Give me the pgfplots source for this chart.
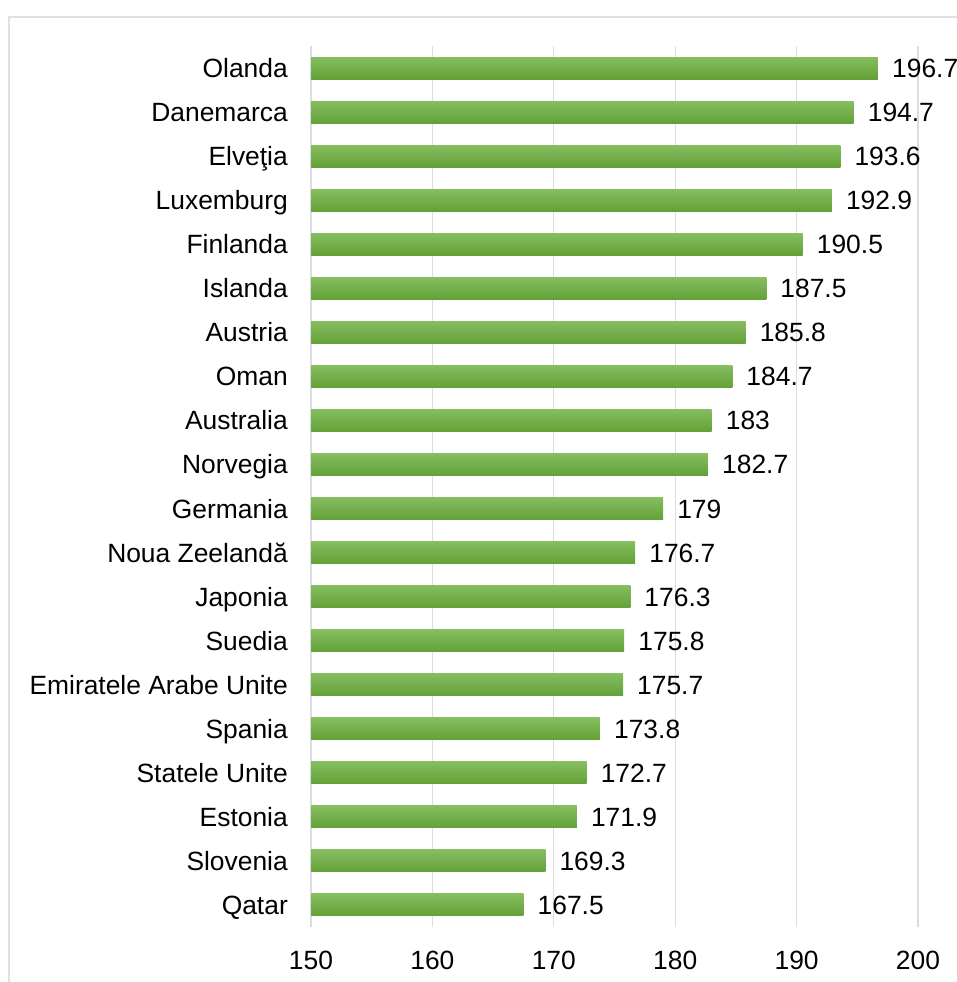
\documentclass[border=0pt]{standalone}
\usepackage{pgfplots}
\pgfplotsset{compat=1.18}
\usepackage{fontspec}
\setmainfont{Liberation Sans}
\definecolor{gridc}{RGB}{218,222,228}
\definecolor{framec}{RGB}{221,226,231}
\definecolor{barlight}{RGB}{134,189,96}
\definecolor{bardark}{RGB}{99,161,55}
\pgfplotsset{mybar/.style={xbar, bar shift=0pt, bar width=22bp, draw=none,
  top color=barlight, bottom color=bardark,
  nodes near coords,
  nodes near coords style={anchor=base west, inner sep=0pt, xshift=14bp, yshift=-9.5bp, text=black, font=\fontsize{26.5}{30}\selectfont}}}
\begin{document}
\begin{tikzpicture}
\path[use as bounding box, clip] (0bp,0bp) rectangle (957bp,-982bp);
\fill[white] (0bp,0bp) rectangle (957bp,-982bp);
\draw[framec, line width=2bp] (9bp,-17bp) rectangle (1100bp,-1100bp);
\begin{axis}[
  at={(311bp,-927bp)}, anchor=south west,
  scale only axis, width=607bp, height=881bp,
  xmin=150, xmax=200, ymin=-0.5, ymax=19.5,
  xtick={150,160,...,200},
  ytick={0,...,19},
  yticklabels={Qatar,Slovenia,Estonia,Statele Unite,Spania,Emiratele Arabe Unite,Suedia,Japonia,Noua Zeelandă,Germania,Norvegia,Australia,Oman,Austria,Islanda,Finlanda,Luxemburg,Elveţia,Danemarca,Olanda},
  xmajorgrids,
  major grid style={gridc, line width=1.3bp},
  axis line style={draw=none},
  major tick length=0pt,
  tick style={draw=none},
  /pgf/number format/assume math mode=true,
  tick label style={font=\fontsize{26.5}{30}\selectfont, text=black},
  xticklabel style={anchor=north, inner sep=0pt, yshift=-24bp},
  yticklabel style={anchor=base east, inner sep=0pt, xshift=-23bp, yshift=-9.5bp},
  clip=false,
]
\addplot[mybar] coordinates {(167.5,0)};
\addplot[mybar] coordinates {(169.3,1)};
\addplot[mybar] coordinates {(171.9,2)};
\addplot[mybar] coordinates {(172.7,3)};
\addplot[mybar] coordinates {(173.8,4)};
\addplot[mybar] coordinates {(175.7,5)};
\addplot[mybar] coordinates {(175.8,6)};
\addplot[mybar] coordinates {(176.3,7)};
\addplot[mybar] coordinates {(176.7,8)};
\addplot[mybar] coordinates {(179,9)};
\addplot[mybar] coordinates {(182.7,10)};
\addplot[mybar] coordinates {(183,11)};
\addplot[mybar] coordinates {(184.7,12)};
\addplot[mybar] coordinates {(185.8,13)};
\addplot[mybar] coordinates {(187.5,14)};
\addplot[mybar] coordinates {(190.5,15)};
\addplot[mybar] coordinates {(192.9,16)};
\addplot[mybar] coordinates {(193.6,17)};
\addplot[mybar] coordinates {(194.7,18)};
\addplot[mybar] coordinates {(196.7,19)};
\end{axis}
\end{tikzpicture}
\end{document}
